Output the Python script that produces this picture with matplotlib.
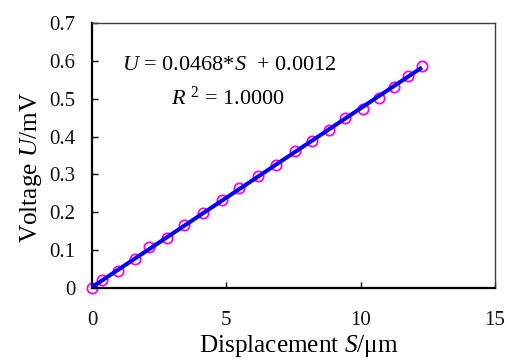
import numpy as np
import matplotlib
matplotlib.use("Agg")
import matplotlib.pyplot as plt

plt.rcParams['font.family'] = ['Liberation Serif', 'DejaVu Serif']
plt.rcParams['mathtext.fontset'] = 'custom'
plt.rcParams['mathtext.rm'] = 'Liberation Serif'
plt.rcParams['mathtext.it'] = 'Liberation Serif:italic'

# Data
displacement = [0.0, 0.38, 0.95, 1.59, 2.14, 2.79, 3.43, 4.12, 4.84, 5.48, 6.19,
                6.84, 7.54, 8.20, 8.81, 9.43, 10.07, 10.67, 11.23, 11.78, 12.28]
voltage = [0.0, 0.020, 0.045, 0.076, 0.107, 0.131, 0.167, 0.198, 0.233, 0.264, 0.295,
           0.326, 0.362, 0.387, 0.418, 0.449, 0.474, 0.503, 0.530, 0.560, 0.587]
eq_text = r'$\mathit{U}$ = 0.0468*$\mathit{S}$  + 0.0012'
r2_text = r'$\mathit{R}$ $^{2}$ = 1.0000'
x_ticks = [0, 5, 10, 15]
y_ticks = [0, 0.1, 0.2, 0.3, 0.4, 0.5, 0.6, 0.7]
y_ticklabels = ['0', '0.1', '0.2', '0.3', '0.4', '0.5', '0.6', '0.7']
x_label = r'Displacement $\mathit{S}$/μm'
y_label = r'Voltage $\mathit{U}$/mV'

W, H = 507, 360
fig = plt.figure(figsize=(W/100, H/100), dpi=100)
ax = fig.add_axes([92/W, 1-288/H, (495-92)/W, (288-23)/H])

x = np.array(displacement)
y = np.array(voltage)
ax.plot(x, y, linestyle='none', marker='o', markersize=7.4, markerfacecolor='none',
        markeredgecolor='#FF00FF', markeredgewidth=1.3, zorder=2, clip_on=False)
k, b = np.polyfit(x, y, 1)
xl = np.array([x.min(), x.max()])
ax.plot(xl, k*xl + b, color='#0000FF', linewidth=2.9, zorder=3, solid_capstyle='butt')

ax.set_xlim(0, 15)
ax.set_ylim(0, 0.7)
ax.set_xticks(x_ticks)
ax.set_xticklabels([str(t) for t in x_ticks])
ax.set_yticks(y_ticks)
ax.set_yticklabels(y_ticklabels)
ax.tick_params(axis='both', direction='in', length=4, width=1, labelsize=15,
               colors='black', labelcolor='#111111')
ax.tick_params(axis='x', pad=16.5)
ax.tick_params(axis='y', pad=12)

for s in ['left', 'bottom']:
    ax.spines[s].set_linewidth(1.6)
    ax.spines[s].set_color('black')
for s in ['right', 'top']:
    ax.spines[s].set_linewidth(1.0)
    ax.spines[s].set_color('#404040')

fig.text(299/W, 1-352/H, x_label, fontsize=18.2, ha='center', va='baseline')
fig.text(37/W, 1-167/H, y_label, fontsize=18.2, ha='center', va='baseline',
         rotation=90, rotation_mode='anchor')

ax.text(0.074, 0.838, eq_text, transform=ax.transAxes, fontsize=16, va='center', ha='left')
ax.text(0.337, 0.717, r2_text, transform=ax.transAxes, fontsize=16, va='center', ha='center')

fig.savefig('out.png', dpi=100)
